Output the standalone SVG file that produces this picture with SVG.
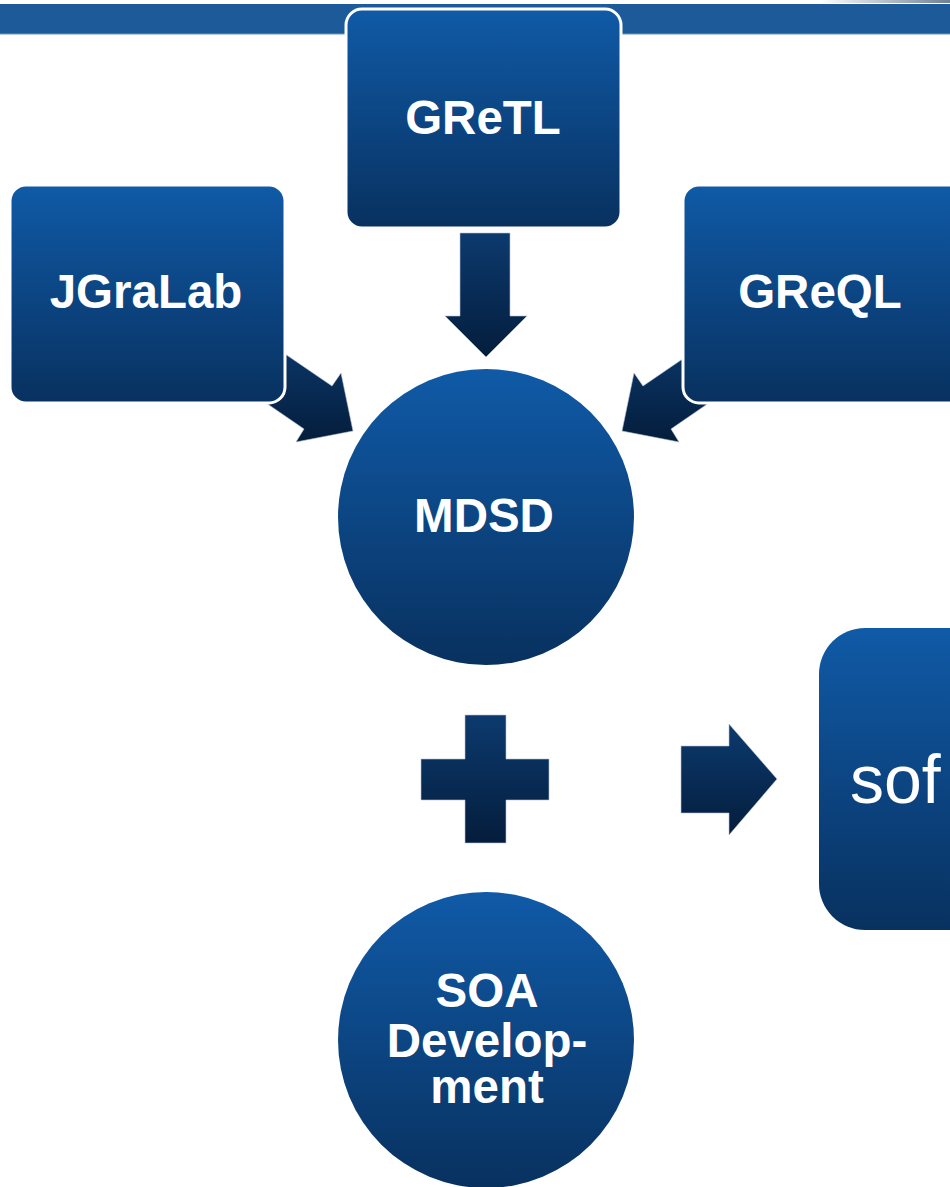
<svg xmlns="http://www.w3.org/2000/svg" width="950" height="1187" viewBox="0 0 950 1187">
  <defs>
    <linearGradient id="gNode" x1="0" y1="0" x2="0" y2="1">
      <stop offset="0" stop-color="#105aa7"/>
      <stop offset="1" stop-color="#08315f"/>
    </linearGradient>
    <linearGradient id="gArrow" x1="0" y1="0" x2="0" y2="1">
      <stop offset="0" stop-color="#0c3a6e"/>
      <stop offset="1" stop-color="#041d3c"/>
    </linearGradient>
    <linearGradient id="gTop" x1="0" y1="0" x2="1" y2="0">
      <stop offset="0" stop-color="#ffffff"/>
      <stop offset="1" stop-color="#6f7f95"/>
    </linearGradient>
  </defs>
  <style>
    .node { fill: url(#gNode); }
    .boxed { stroke: #ffffff; stroke-width: 3; }
    .arrow { fill: url(#gArrow); stroke: #b7c4d6; stroke-width: 0.6; }
    .lbl { font-family: "Liberation Sans", Arial, sans-serif; font-weight: bold; font-size: 47.5px; fill: #ffffff; text-anchor: middle; }
    .big { font-family: "Liberation Sans", Arial, sans-serif; font-size: 68px; fill: #ffffff; }
  </style>
  <rect x="0" y="0" width="950" height="1187" fill="#ffffff"/>
  <!-- header bar -->
  <rect x="820" y="0" width="130" height="3" fill="url(#gTop)"/>
  <rect x="0" y="4" width="950" height="30" fill="#1c5a9a"/>
  <rect x="0" y="33.5" width="950" height="1" fill="#6d93c2"/>

  <g id="connectors">
    <path class="arrow" d="M460,233 L510,233 L510,316 L527,316 L486,357 L445,316 L460,316 Z"/>
    <path class="arrow" d="M250,330 L332,386 L341,373 L353,431 L296,442 L304,429 L240,385 Z"/>
    <path class="arrow" d="M725,330 L643,386 L634,373 L622,431 L679,442 L671,429 L735,385 Z"/>
    <path class="arrow" d="M465,715 L506,715 L506,759 L549,759 L549,800 L506,800 L506,843 L465,843 L465,800 L421,800 L421,759 L465,759 Z"/>
    <path class="arrow" d="M681,746 L729,746 L729,724 L777,779 L729,835 L729,813 L681,813 Z"/>
  </g>

  <g id="node-gretl">
    <rect class="node boxed" x="346" y="9" width="275" height="219" rx="16"/>
    <text class="lbl" x="483" y="134">GReTL</text>
  </g>
  <g id="node-jgralab">
    <rect class="node boxed" x="10" y="185" width="275" height="218" rx="16"/>
    <text class="lbl" x="146" y="308">JGraLab</text>
  </g>
  <g id="node-greql">
    <rect class="node boxed" x="683" y="185" width="290" height="218" rx="16"/>
    <text class="lbl" x="820" y="308">GReQL</text>
  </g>
  <g id="node-mdsd">
    <circle class="node" cx="486" cy="517" r="148"/>
    <text class="lbl" x="484" y="532">MDSD</text>
  </g>
  <g id="node-soa">
    <circle class="node" cx="486" cy="1040" r="148"/>
    <text class="lbl" x="487" y="1007">SOA<tspan x="487" y="1057">Develop-</tspan><tspan x="487" y="1103">ment</tspan></text>
  </g>
  <g id="node-software">
    <rect class="node" x="819" y="628" width="200" height="302" rx="46"/>
    <text class="big" x="850" y="803">sof</text>
  </g>
</svg>
